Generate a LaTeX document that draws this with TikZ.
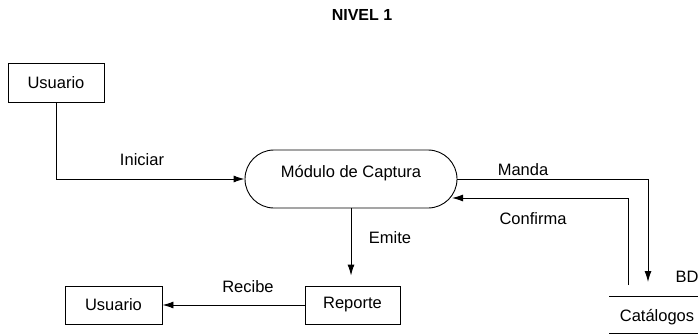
\documentclass[tikz,border=0pt]{standalone}
\usepackage{fontspec}
\setmainfont{Liberation Sans}
\usetikzlibrary{arrows.meta}
\begin{document}
\begin{tikzpicture}[x=1pt,y=-1pt,
  every node/.style={font=\fontsize{16.5}{18}\selectfont},
  boxnode/.style={draw,line width=0.9pt,inner sep=0pt},
  flow/.style={line width=0.9pt,-{Latex[length=11pt,width=7pt]}},
  plain/.style={line width=0.9pt},
  lbl/.style={inner sep=0pt}]
\useasboundingbox (0,0) rectangle (698,334);
\node[font=\fontsize{16}{18}\selectfont\bfseries,lbl] (title) at (362,15) {NIVEL 1};
\node[boxnode,minimum width=96pt,minimum height=39pt] (u1) at (56,82.5) {Usuario};
\node[boxnode,minimum width=212pt,minimum height=58pt,rounded corners=29pt,text height=12pt,text depth=16pt] (cap) at (351,179) {Módulo de Captura};
\node[boxnode,minimum width=95pt,minimum height=38pt] (rep) at (352.5,305) {Reporte};
\node[boxnode,minimum width=97pt,minimum height=38pt] (u2) at (113.5,305) {Usuario};
\node[lbl] (cat) at (657,317) {Catálogos};
\node[lbl] (bd) at (687,277) {BD};
\coordinate (stTL) at (609,296);
\coordinate (stTR) at (698,296);
\coordinate (stBL) at (609,333);
\coordinate (stBR) at (698,333);
\coordinate (mandaC) at (648,179);
\coordinate (mandaE) at (648,282);
\coordinate (confS) at (628,285);
\coordinate (capin) at (452,198);
\draw[plain] (stTL) -- (stTR);
\draw[plain] (stBL) -- (stBR);
\draw[flow] (u1.south) |- (cap.west);
\draw[flow] (cap.east) -- (mandaC) -- (mandaE);
\draw[flow] (confS) |- (capin);
\draw[flow,shorten >=10pt] (cap.south) -- (cap.south |- rep.north);
\draw[flow] (rep.west) -- (u2.east);
\node[lbl] (l1) at (142,160) {Iniciar};
\node[lbl] (l2) at (523,170) {Manda};
\node[lbl] (l3) at (533,219) {Confirma};
\node[lbl] (l4) at (390,238) {Emite};
\node[lbl] (l5) at (248,287) {Recibe};
\end{tikzpicture}
\end{document}
